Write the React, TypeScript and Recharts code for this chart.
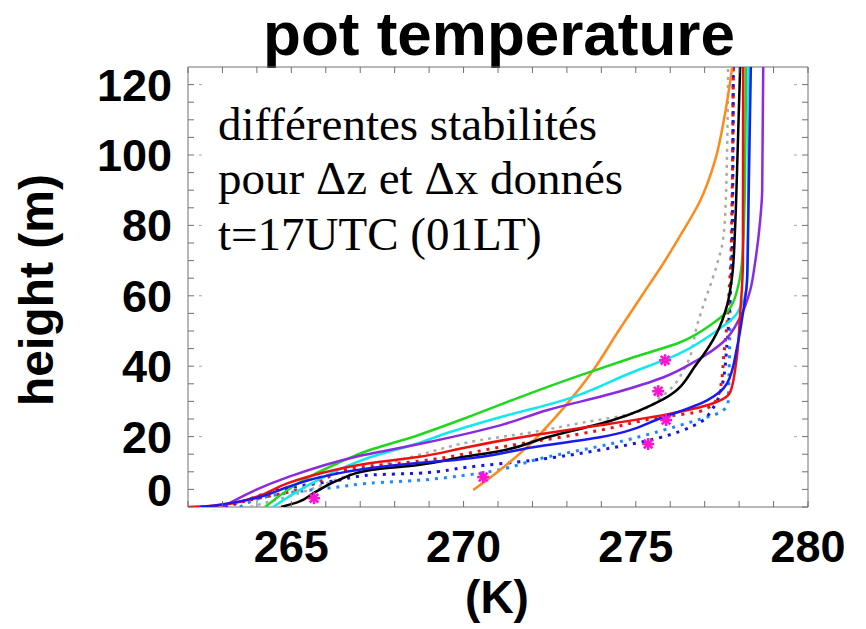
import React from 'react';
import { ScatterChart, Scatter, XAxis, YAxis } from 'recharts';

// ---------------------------------------------------------------------------
// Potential temperature profiles, t=17UTC (01LT)
// each profile: [theta (K), height (m)]
// ---------------------------------------------------------------------------

const orange: [number, number][] = [
  [270.28, 4.8], [271.06, 10.5], [271.84, 17.0], [272.51, 23.8], [273.09, 30.3],
  [273.76, 38.8], [274.51, 50.2], [275.18, 60.1], [275.76, 68.6], [276.29, 77.1],
  [276.87, 87.0], [277.3, 98.4], [277.59, 111.7], [277.8, 125],
];

const green: [number, number][] = [
  [264.24, 0], [265.34, 7.6], [266.36, 12.5], [267.02, 15.3], [268.68, 20.4],
  [270.28, 26.1], [271.93, 32.3], [273.38, 37.4], [274.83, 42.2], [276.29, 46.8],
  [277.24, 52.2], [277.68, 55.8], [277.94, 61.5], [278.11, 72.8], [278.17, 92.7],
  [278.2, 125],
];

const cyan: [number, number][] = [
  [264.47, 0], [265.4, 5.7], [266.36, 10.5], [267.31, 14.2], [268.68, 18.1],
  [269.61, 21.3], [271.06, 25.5], [272.89, 30.3], [274.83, 38.0], [276.29, 43.7],
  [277.24, 49.3], [277.94, 55.0], [278.23, 63.8], [278.26, 78.5], [278.27, 125],
];

const purple: [number, number][] = [
  [262.99, 0], [264.9, 8.5], [266.85, 14.2], [268.68, 17.8], [271.06, 23.2],
  [272.42, 27.5], [274.34, 32.3], [275.79, 36.8], [276.78, 41.7], [277.53, 46.8],
  [278.03, 53.9], [278.32, 61.5], [278.46, 69.2], [278.61, 81.3], [278.67, 89.9],
  [278.7, 125],
];

const black: [number, number][] = [
  [264.7, 0], [265.19, 1.4], [265.69, 4.2], [266.36, 7.6], [267.31, 10.5],
  [268.68, 11.9], [269.98, 14.2], [271.06, 15.9], [272.42, 19.8], [274.34, 24.7],
  [275.79, 30.6], [276.78, 40.8], [277.36, 49.6], [277.65, 57.3], [277.8, 65.8],
  [277.88, 78.5], [277.94, 95.5], [278.03, 125],
];

const red: [number, number][] = [
  [262.0, 0], [262.96, 0.6], [263.95, 2.8], [264.9, 6.8], [265.86, 9.6],
  [267.31, 12.5], [268.68, 14.2], [270.1, 17.0], [272.02, 20.4], [273.96, 23.2],
  [275.79, 26.1], [277.07, 28.9], [277.74, 32.6], [277.91, 40.8], [278.03, 55.0],
  [278.11, 69.2], [278.12, 125],
];

const blue: [number, number][] = [
  [262.35, 0], [262.87, 0.6], [263.95, 2.5], [264.9, 5.7], [265.86, 8.5],
  [267.31, 11.1], [268.68, 12.5], [269.69, 13.3], [272.02, 17.0], [273.96, 19.8],
  [275.79, 25.5], [277.07, 30.3], [277.65, 35.1], [277.94, 45.4], [278.11, 55.0],
  [278.23, 64.3], [278.26, 78.5], [278.34, 125],
];

const grayDot: [number, number][] = [
  [263.8, 0], [265.25, 4.0], [266.8, 9.5], [268.68, 14.7], [270.48, 19.0],
  [271.84, 21.0], [273.47, 24.0], [274.92, 26.6], [275.79, 31.7], [276.49, 40.8],
  [276.78, 51.6], [277.01, 58.7], [277.21, 64.3], [277.39, 70.0], [277.53, 75.7],
  [277.62, 89.0], [277.68, 125],
];

const redDot: [number, number][] = [
  [262.78, 0], [263.95, 2.3], [264.9, 4.2], [265.86, 7.6], [266.85, 11.1],
  [268.68, 13.0], [271.06, 17.0], [273.96, 21.8], [275.71, 25.5], [276.87, 27.2],
  [277.33, 30.3], [277.48, 35.1], [277.56, 43.7], [277.65, 52.2], [277.71, 61.5],
  [277.77, 72.8], [277.83, 125],
];

const blueDot: [number, number][] = [
  [263.07, 0], [263.45, 1.1], [264.9, 5.4], [266.36, 7.6], [267.31, 9.1],
  [268.68, 9.6], [270.1, 11.3], [272.02, 13.3], [273.96, 16.2], [275.41, 19.0],
  [276.87, 24.1], [277.24, 28.1], [277.51, 34.6], [277.65, 46.5], [277.74, 59.5],
  [277.8, 73.7], [277.83, 125],
];

const skyDot: [number, number][] = [
  [263.51, 0], [264.9, 4.0], [266.36, 5.7], [267.31, 6.8], [268.68, 7.6],
  [270.1, 9.1], [272.42, 14.2], [274.34, 18.1], [275.79, 21.8], [276.78, 24.7],
  [277.45, 26.9], [277.68, 29.5], [277.71, 38.8], [277.74, 58.7], [277.8, 87.0],
  [277.83, 125],
];

// observations (magenta asterisks)
const obs: [number, number][] = [
  [265.66, 2.5], [270.57, 8.5], [275.36, 17.9], [275.88, 24.7], [275.65, 32.9], [275.85, 41.7],
];

const xTicks = [262, 263, 264, 265, 266, 267, 268, 269, 270, 271, 272, 273, 274, 275, 276, 277, 278, 279, 280];
const xLabels = [265, 270, 275, 280];
const yTicks = [0, 5, 10, 15, 20, 25, 30, 35, 40, 45, 50, 55, 60, 65, 70, 75, 80, 85, 90, 95, 100, 105, 110, 115, 120];
const yLabels = [0, 20, 40, 60, 80, 100, 120];

const SANS = '"Liberation Sans", Arial, Helvetica, sans-serif';
const SERIF = '"Liberation Serif", "Times New Roman", serif';
const FRAME = '#707070';

const toPts = (d: [number, number][]) => d.map(([x, y]) => ({ x, y }));

const profiles = [
  { name: 'grayDot', data: grayDot, color: '#aaaaaa', dash: '3 5', width: 2.5 },
  { name: 'skyDot', data: skyDot, color: '#1e88ff', dash: '3 6', width: 3 },
  { name: 'blueDot', data: blueDot, color: '#1515e8', dash: '3 6', width: 3 },
  { name: 'redDot', data: redDot, color: '#ee1111', dash: '3 6', width: 3 },
  { name: 'orange', data: orange, color: '#ff8a1c', dash: undefined, width: 2.5 },
  { name: 'green', data: green, color: '#1ed81e', dash: undefined, width: 2.5 },
  { name: 'cyan', data: cyan, color: '#10e8f0', dash: undefined, width: 2.5 },
  { name: 'purple', data: purple, color: '#8a2be2', dash: undefined, width: 2.5 },
  { name: 'black', data: black, color: '#000000', dash: undefined, width: 2.5 },
  { name: 'red', data: red, color: '#ee1010', dash: undefined, width: 2.5 },
  { name: 'blue', data: blue, color: '#1a1aee', dash: undefined, width: 2.5 },
];

const NoDot = () => <g />;

function Asterisk(props: any) {
  const { cx, cy } = props;
  const r = 6;
  const d = 4.3;
  return (
    <g stroke="#ff14d2" strokeWidth={2.6}>
      <line x1={cx - r} y1={cy} x2={cx + r} y2={cy} />
      <line x1={cx} y1={cy - r} x2={cx} y2={cy + r} />
      <line x1={cx - d} y1={cy - d} x2={cx + d} y2={cy + d} />
      <line x1={cx - d} y1={cy + d} x2={cx + d} y2={cy - d} />
    </g>
  );
}

function BottomTick(props: any) {
  const { x, y, payload } = props;
  const v = payload.value;
  return (
    <g>
      <line x1={x} x2={x} y1={y} y2={y - 6} stroke={FRAME} />
      {xLabels.includes(v) && (
        <text x={x} y={y + 55} textAnchor="middle" fontFamily={SANS} fontWeight="bold" fontSize={45} fill="#000">
          {v}
        </text>
      )}
    </g>
  );
}

function TopTick(props: any) {
  const { x, y } = props;
  return <line x1={x} x2={x} y1={y} y2={y + 6} stroke={FRAME} />;
}

function LeftTick(props: any) {
  const { x, y, payload } = props;
  const v = payload.value;
  const major = yLabels.includes(v);
  return (
    <g>
      <line x1={x} x2={x + 6} y1={y} y2={y} stroke={FRAME} />
      {major && v > 0 && <line x1={x + 11} x2={x + 14} y1={y} y2={y} stroke="#aaa" />}
      {major && (
        <text
          x={x - 16}
          y={v === 0 ? y - 17 : y}
          dy={16}
          textAnchor="end"
          fontFamily={SANS}
          fontWeight="bold"
          fontSize={45}
          fill="#000"
        >
          {v}
        </text>
      )}
    </g>
  );
}

function RightTick(props: any) {
  const { x, y, payload } = props;
  const major = yLabels.includes(payload.value) && payload.value > 0;
  return (
    <g>
      <line x1={x} x2={x - 6} y1={y} y2={y} stroke={FRAME} />
      {major && <line x1={x - 11} x2={x - 14} y1={y} y2={y} stroke="#aaa" />}
    </g>
  );
}

export default function App() {
  return (
    <div style={{ position: 'absolute', left: 0, top: 0, width: 866, height: 629, background: '#fff' }}>
      <svg width={866} height={629} style={{ position: 'absolute', left: 0, top: 0 }}>
        <text x={499} y={55} textAnchor="middle" fontFamily={SANS} fontWeight="bold" fontSize={62}>
          pot temperature
        </text>
        <text x={53} y={290} transform="rotate(-90, 53, 290)" textAnchor="middle" fontFamily={SANS} fontWeight="bold" fontSize={48}>
          height (m)
        </text>
        <text x={497} y={613} textAnchor="middle" fontFamily={SANS} fontWeight="bold" fontSize={46}>
          (K)
        </text>
      </svg>
      <div style={{ position: 'absolute', left: 0, top: 0 }}>
        <ScatterChart width={866} height={629} margin={{ top: 66, right: 57, bottom: 0, left: 0 }}>
          <XAxis
            xAxisId="b"
            type="number"
            dataKey="x"
            domain={[262, 280]}
            ticks={xTicks}
            allowDataOverflow
            height={122}
            tickSize={0}
            tickMargin={0}
            tickLine={false}
            axisLine={{ stroke: FRAME }}
            tick={<BottomTick />}
            interval={0}
          />
          <XAxis
            xAxisId="t"
            orientation="top"
            type="number"
            dataKey="x"
            domain={[262, 280]}
            ticks={xTicks}
            allowDataOverflow
            height={1}
            tickSize={0}
            tickMargin={0}
            tickLine={false}
            axisLine={{ stroke: FRAME }}
            tick={<TopTick />}
            interval={0}
          />
          <YAxis
            yAxisId="l"
            type="number"
            dataKey="y"
            domain={[0, 125]}
            ticks={yTicks}
            allowDataOverflow
            width={188}
            tickSize={0}
            tickMargin={0}
            tickLine={false}
            axisLine={{ stroke: FRAME }}
            tick={<LeftTick />}
            interval={0}
          />
          <YAxis
            yAxisId="r"
            orientation="right"
            type="number"
            dataKey="y"
            domain={[0, 125]}
            ticks={yTicks}
            allowDataOverflow
            width={1}
            tickSize={0}
            tickMargin={0}
            tickLine={false}
            axisLine={{ stroke: FRAME }}
            tick={<RightTick />}
            interval={0}
          />
          {/* invisible series so the top/right frame axes get drawn */}
          <Scatter xAxisId="t" yAxisId="r" data={toPts(obs)} shape={NoDot} isAnimationActive={false} />
          {profiles.map((p) => (
            <Scatter
              key={p.name}
              xAxisId="b"
              yAxisId="l"
              data={toPts(p.data)}
              shape={NoDot}
              lineJointType="monotoneY"
              line={{ stroke: p.color, strokeWidth: p.width, strokeDasharray: p.dash, strokeLinecap: 'butt' }}
              isAnimationActive={false}
            />
          ))}
          <Scatter xAxisId="b" yAxisId="l" data={toPts(obs)} shape={Asterisk} isAnimationActive={false} />
        </ScatterChart>
      </div>
      <svg width={866} height={629} style={{ position: 'absolute', left: 0, top: 0, pointerEvents: 'none' }}>
        <g fontFamily={SERIF} fontSize={47} fill="#000">
          <text x={218} y={140}>différentes stabilités</text>
          <text x={218} y={194}>pour Δz et Δx donnés</text>
          <text x={218} y={250}>t=17UTC (01LT)</text>
        </g>
      </svg>
    </div>
  );
}
